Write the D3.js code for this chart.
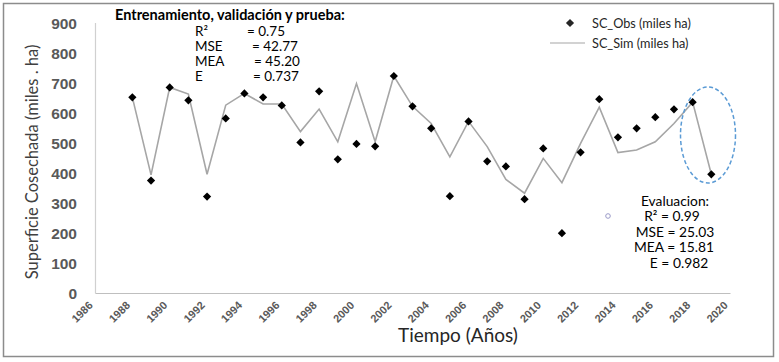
<!DOCTYPE html>
<html>
<head>
<meta charset="utf-8">
<script src="https://cdn.jsdelivr.net/npm/d3@7"></script>
<style>
body { margin: 0; background: #fff; }
svg { display: block; font-family: Lato, "Open Sans", sans-serif; }
</style>
</head>
<body>
<svg id="graph" width="779" height="362"></svg>
<script>
var years = d3.range(1988, 2020);
var obsValues = [651, 374, 684, 641, 321, 581, 664, 651, 624, 501, 671, 445, 496, 488, 722, 621,
    548, 322, 571, 438, 421, 312, 481, 199, 468, 645, 518, 548, 585, 611, 635, 395];
var simValues = [651, 393, 684, 662, 395, 625, 664, 629, 629, 537, 612, 503, 697, 503, 722, 621,
    564, 453, 571, 487, 378, 332, 448, 367, 498, 618, 467, 476, 503, 564, 635, 395];
var yTicks = [0, 100, 200, 300, 400, 500, 600, 700, 800, 900];
var xTicks = d3.range(1986, 2021, 2);
var trainStats = [['R²', '= 0.75'], ['MSE', '= 42.77'], ['MEA', '= 45.20'], ['E', '= 0.737']];
var evalStats = ['Evaluacion:', 'R² = 0.99', 'MSE = 25.03', 'MEA = 15.81', 'E = 0.982'];

var obs = years.map(function (y, i) { return { year: y, value: obsValues[i] }; });
var sim = years.map(function (y, i) { return { year: y, value: simValues[i] }; });

var svg = d3.select('#graph');

// outer frame
svg.append('rect')
    .attr('x', 3.5).attr('y', 3.5)
    .attr('width', 770).attr('height', 353)
    .attr('fill', 'none')
    .attr('stroke', '#8c8c8c')
    .attr('stroke-width', 1.5);

var xScale = d3.scaleLinear().domain([1986, 2020]).range([95, 730]);
var yScale = d3.scaleLinear().domain([0, 900]).range([293, 22.5]);

// axes
var xAxis = svg.append('g')
    .attr('transform', 'translate(0,293)')
    .call(d3.axisBottom(xScale).tickValues(xTicks).tickSize(0).tickFormat(d3.format('d')));
xAxis.select('.domain').attr('stroke', '#bfbfbf').attr('stroke-width', 1.2);
xAxis.selectAll('text')
    .attr('fill', '#595959')
    .style('font-size', '11px')
    .style('font-weight', 'bold')
    .attr('text-anchor', 'end')
    .attr('dy', null)
    .attr('y', 0)
    .attr('transform', 'translate(-2,13) rotate(-45)');

var yAxis = svg.append('g')
    .attr('transform', 'translate(95,0)')
    .call(d3.axisLeft(yScale).tickValues(yTicks).tickSize(0).tickPadding(18));
yAxis.select('.domain').attr('stroke', '#d0d0d0').attr('stroke-width', 1.2);
yAxis.selectAll('text')
    .attr('fill', '#595959')
    .attr('dy', '0.36em')
    .style('font-size', '15.5px')
    .style('font-weight', 'bold');

// axis titles
svg.append('text')
    .attr('transform', 'translate(38,162) rotate(-90)')
    .attr('text-anchor', 'middle')
    .attr('fill', '#404040')
    .style('font-size', '16.5px')
    .text('Superficie Cosechada (miles . ha)');

svg.append('text')
    .attr('x', 458).attr('y', 342)
    .attr('text-anchor', 'middle')
    .attr('fill', '#262626')
    .style('font-size', '19px')
    .text('Tiempo (Años)');

// simulated line
var line = d3.line()
    .x(function (d) { return xScale(d.year); })
    .y(function (d) { return yScale(d.value); });

svg.append('path')
    .datum(sim)
    .attr('fill', 'none')
    .attr('stroke', '#a6a6a6')
    .attr('stroke-width', 1.6)
    .attr('d', line);

// observed diamonds (square turned 45 degrees)
var diamond = d3.symbol().type(d3.symbolSquare).size(34);
svg.selectAll('.obs')
    .data(obs)
    .enter().append('path')
    .attr('class', 'obs')
    .attr('transform', function (d) { return 'translate(' + xScale(d.year) + ',' + yScale(d.value) + ') rotate(45)'; })
    .attr('d', diamond)
    .attr('fill', '#000');

// evaluation ellipse
svg.append('ellipse')
    .attr('cx', 708).attr('cy', 135)
    .attr('rx', 27.5).attr('ry', 48)
    .attr('fill', 'none')
    .attr('stroke', '#5b9bd5')
    .attr('stroke-width', 1.5)
    .attr('stroke-dasharray', '4,2.5');

// legend
var legend = svg.append('g').style('font-size', '12.7px').attr('fill', '#262626');
legend.append('path')
    .attr('transform', 'translate(570,23) rotate(45)')
    .attr('d', diamond);
legend.append('text').attr('x', 592).attr('y', 27.5).text('SC_Obs (miles ha)');
legend.append('line')
    .attr('x1', 550).attr('x2', 585).attr('y1', 43).attr('y2', 43)
    .attr('stroke', '#a6a6a6').attr('stroke-width', 1.2);
legend.append('text').attr('x', 592).attr('y', 47.5).text('SC_Sim (miles ha)');

// training stats
svg.append('text')
    .attr('x', 115).attr('y', 20)
    .attr('fill', '#000')
    .style('font-size', '14.5px')
    .style('font-weight', 'bold')
    .text('Entrenamiento, validación y prueba:');

var eqX = [247, 252, 254, 253];
var stats = svg.append('g').style('font-size', '13.5px').attr('fill', '#000');
trainStats.forEach(function (s, i) {
    var yy = 35.5 + i * 15;
    stats.append('text').attr('x', 195).attr('y', yy).text(s[0]);
    stats.append('text').attr('x', eqX[i]).attr('y', yy).text(s[1]);
});

// evaluation stats
var evX = [675, 672, 675, 674, 679];
var ev = svg.append('g').style('font-size', '13.8px').attr('fill', '#000');
evalStats.forEach(function (s, i) {
    ev.append('text')
        .attr('x', evX[i])
        .attr('y', 205.5 + i * 15.6)
        .attr('text-anchor', 'middle')
        .text(s);
});
svg.append('circle')
    .attr('cx', 608).attr('cy', 216).attr('r', 2.3)
    .attr('fill', 'none')
    .attr('stroke', '#9a9ac8')
    .attr('stroke-width', 1);
</script>
</body>
</html>
